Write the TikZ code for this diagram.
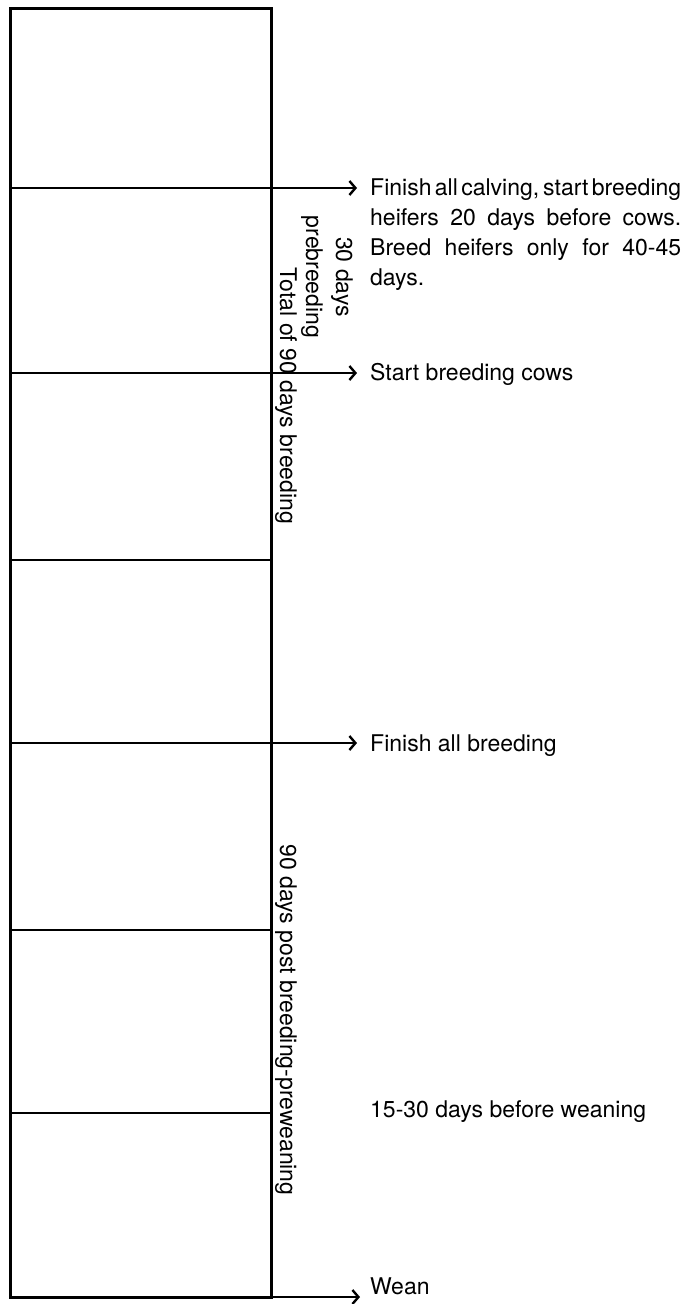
\documentclass[tikz,border=0pt]{standalone}
\usepackage{fontspec}
\setmainfont{TeX Gyre Heros}
\usetikzlibrary{arrows.meta,calc,positioning}

\begin{document}
\begin{tikzpicture}[x=1pt,y=-1pt,>={Straight Barb[length=6pt,width=14pt]},
    every node/.style={font=\fontsize{23}{30}\selectfont,inner sep=0pt},
    note/.style={anchor=base west},
    sidetext/.style={rotate=-90,align=center},
    tick/.style={line width=2.4pt},
    event/.style={line width=2.4pt,->}]
  \useasboundingbox (0,0) rectangle (681,1304);
  % calendar column
  \draw[line width=3pt] (10,8) rectangle (271,1297);
  \foreach \y/\name in {188/calve,373/cows,560/mthree,743/endbreed,930/mfive,1113/prewean,1297/wean}
    \coordinate (\name) at (10,\y);
  \foreach \name in {mthree,mfive,prewean}
    \draw[tick] (\name) -- (\name -| 271,0);
  % events
  \coordinate (calvetip) at (357,188);
  \coordinate (cowstip) at (357,373);
  \coordinate (endtip) at (357,743);
  \coordinate (weantip) at (360,1297);
  \draw[event] (calve) -- (calvetip);
  \draw[event] (cows) -- (cowstip);
  \draw[event] (endbreed) -- (endtip);
  \draw[event] (wean) -- (weantip);
  \node[anchor=north west,text width=311pt,align=justify,
        execute at begin node={\spaceskip=0.278em plus 0.3em minus 0.14em}]
    (calving) at (370,178.5) {Finish all calving, start breeding heifers 20 days before cows. Breed heifers only for 40-45 days.};
  \node[note] (startcows) at (370,380) {Start breeding cows};
  \node[note] (finish) at (370,751) {Finish all breeding};
  \node[note] (before) at (370,1117) {15-30 days before weaning};
  \node[note] (weanlbl) at (370,1294) {Wean};
  % periods
  \node[sidetext] (prebreed) at (327,277) {30 days\\prebreeding};
  \node[sidetext] (breeding) at (286,396) {Total of 90 days breeding};
  \node[sidetext] (post) at (286,1020) {90 days post breeding-preweaning};
\end{tikzpicture}
\end{document}
